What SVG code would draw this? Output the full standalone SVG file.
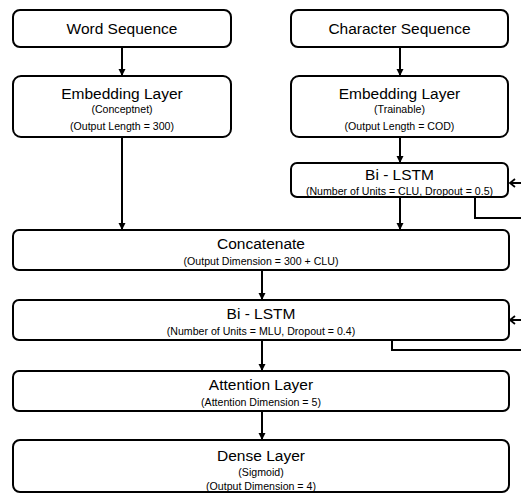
<svg xmlns="http://www.w3.org/2000/svg" width="521" height="493" viewBox="0 0 521 493">
<defs>
<style>
.box{fill:#fff;stroke:#000;stroke-width:2}
.t{font-family:"Liberation Sans",Arial,sans-serif;font-size:15.5px;text-anchor:middle;fill:#000}
.s{font-family:"Liberation Sans",Arial,sans-serif;font-size:10.6px;text-anchor:middle;fill:#000}
.c{fill:none;stroke:#000;stroke-width:2}
</style>
<marker id="ah" markerWidth="8" markerHeight="8" refX="6" refY="3.5" orient="auto" markerUnits="userSpaceOnUse">
<path d="M0,0 L7,3.5 L0,7 Z" fill="#000"/>
</marker>
<marker id="ch" markerWidth="10" markerHeight="12" refX="6" refY="5" orient="auto" markerUnits="userSpaceOnUse">
<path d="M1,1 L6,5 L1,9" fill="none" stroke="#000" stroke-width="1.8"/>
</marker>
</defs>
<rect width="521" height="493" fill="#fff"/>
<g id="connectors">
<line class="c" x1="122" y1="47" x2="122" y2="75" marker-end="url(#ah)"/>
<line class="c" x1="400" y1="47" x2="400" y2="75" marker-end="url(#ah)"/>
<line class="c" x1="400" y1="137" x2="400" y2="162" marker-end="url(#ah)"/>
<line class="c" x1="122" y1="137" x2="122" y2="229" marker-end="url(#ah)"/>
<line class="c" x1="400" y1="197" x2="400" y2="229" marker-end="url(#ah)"/>
<polyline class="c" points="475,197 475,218 521,218"/>
<line class="c" x1="521" y1="183" x2="510" y2="183" marker-end="url(#ch)"/>
<line class="c" x1="262" y1="270" x2="262" y2="299" marker-end="url(#ah)"/>
<polyline class="c" points="392,340 392,350 521,350"/>
<line class="c" x1="521" y1="320" x2="510" y2="320" marker-end="url(#ch)"/>
<line class="c" x1="262" y1="340" x2="262" y2="370" marker-end="url(#ah)"/>
<line class="c" x1="262" y1="411" x2="262" y2="439" marker-end="url(#ah)"/>
</g>
<g id="word-seq">
<rect class="box" x="13" y="10" width="218" height="37" rx="7"/>
<text class="t" x="122" y="34">Word Sequence</text>
</g>
<g id="char-seq">
<rect class="box" x="291" y="10" width="217" height="37" rx="7"/>
<text class="t" x="399.5" y="34">Character  Sequence</text>
</g>
<g id="embed-word">
<rect class="box" x="13" y="76" width="218" height="61" rx="8"/>
<text class="t" x="122" y="99">Embedding Layer</text>
<text class="s" x="122" y="113">(Conceptnet)</text>
<text class="s" x="122" y="130">(Output Length = 300)</text>
</g>
<g id="embed-char">
<rect class="box" x="291" y="76" width="217" height="61" rx="8"/>
<text class="t" x="399.5" y="99">Embedding Layer</text>
<text class="s" x="399.5" y="113">(Trainable)</text>
<text class="s" x="399.5" y="130">(Output Length = COD)</text>
</g>
<g id="bilstm-char">
<rect class="box" x="291" y="163" width="217" height="34" rx="6"/>
<text class="t" x="399.5" y="180">Bi - LSTM</text>
<text class="s" x="399.5" y="194.5">(Number of Units = CLU, Dropout = 0.5)</text>
</g>
<g id="concat">
<rect class="box" x="13" y="230" width="496" height="40" rx="6"/>
<text class="t" x="261" y="249">Concatenate</text>
<text class="s" x="261" y="265">(Output Dimension = 300 + CLU)</text>
</g>
<g id="bilstm-main">
<rect class="box" x="13" y="300" width="496" height="40" rx="6"/>
<text class="t" x="261" y="319">Bi - LSTM</text>
<text class="s" x="261" y="335">(Number of Units = MLU, Dropout = 0.4)</text>
</g>
<g id="attention">
<rect class="box" x="13" y="371" width="496" height="40" rx="6"/>
<text class="t" x="261" y="390">Attention Layer</text>
<text class="s" x="261" y="406">(Attention Dimension = 5)</text>
</g>
<g id="dense">
<rect class="box" x="13" y="440" width="496" height="52" rx="7"/>
<text class="t" x="261" y="461">Dense Layer</text>
<text class="s" x="261" y="476">(Sigmoid)</text>
<text class="s" x="261" y="490">(Output Dimension = 4)</text>
</g>
</svg>
